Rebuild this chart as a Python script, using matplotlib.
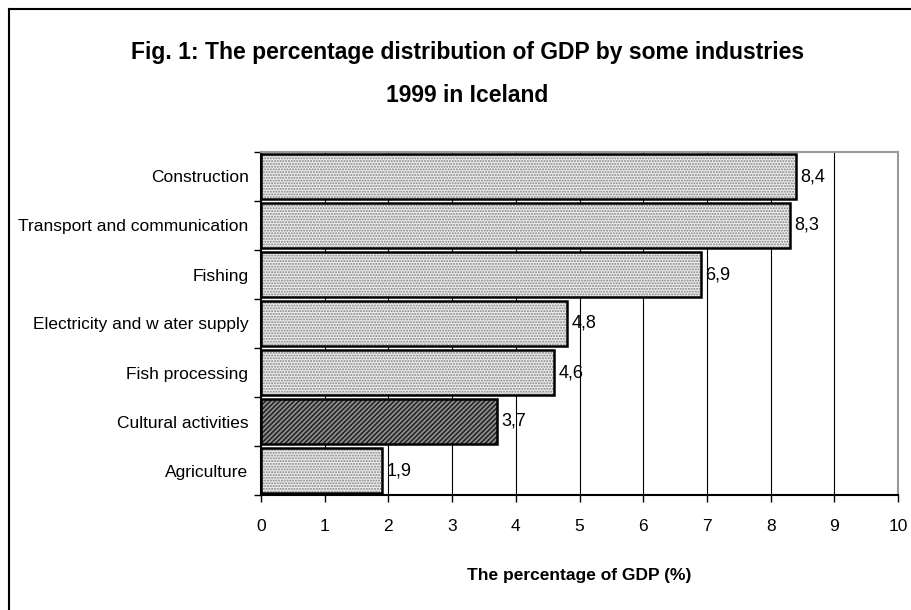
import matplotlib
matplotlib.use('Agg')
import matplotlib.pyplot as plt
import numpy as np

# GDP shares by industry, Iceland 1999
industries = ['Construction', 'Transport and communication', 'Fishing',
              'Electricity and w ater supply', 'Fish processing',
              'Cultural activities', 'Agriculture']
share = [8.4, 8.3, 6.9, 4.8, 4.6, 3.7, 1.9]
share_lbl = ['8,4', '8,3', '6,9', '4,8', '4,6', '3,7', '1,9']
highlight = 'Cultural activities'

plt.rcParams['font.family'] = ['Liberation Sans Narrow', 'Liberation Sans', 'DejaVu Sans']

fig = plt.figure(figsize=(9.11, 6.10), dpi=100)
ax = fig.add_axes([261/911, 1-495/610, (898-261)/911, (495-152)/610])

y = np.arange(len(industries))
dotted = [i != highlight for i in industries]

# grid behind bars
ax.set_axisbelow(True)
ax.grid(True, axis='x', color='black', lw=0.8)

for yi, v, d in zip(y, share, dotted):
    if d:
        ax.barh(yi, v, height=0.9, color='#eeeeee', hatch='......', edgecolor='#808080', lw=0)
    else:
        ax.barh(yi, v, height=0.9, color='#8a8a8a', hatch='///////', edgecolor='#1a1a1a', lw=0)
    ax.barh(yi, v, height=0.9, fill=False, edgecolor='black', lw=1.8)

for yi, v, t in zip(y, share, share_lbl):
    ax.text(v + 0.07, yi, t, va='center', ha='left', fontsize=13)

ax.set_xlim(0, 10)
ax.set_ylim(len(industries) - 0.5, -0.5)
ax.set_xticks(range(0, 11))
ax.tick_params(axis='x', direction='out', length=5, width=1, labelsize=12.5, pad=12)
ax.set_yticks(y)
ax.set_yticklabels(industries)
ax.tick_params(axis='y', which='major', length=0, labelsize=12.5, pad=9)
ax.set_yticks(np.arange(-0.5, len(industries)), minor=True)
ax.tick_params(axis='y', which='minor', direction='out', length=5, width=1)

for s in ['top', 'right']:
    ax.spines[s].set_color('#999999')
    ax.spines[s].set_linewidth(1.5)
for s in ['left', 'bottom']:
    ax.spines[s].set_color('black')
    ax.spines[s].set_linewidth(1.5)

ax.set_xlabel('The percentage of GDP (%)', fontsize=12.5, fontweight='bold', labelpad=25)

fig.text(0.5 + 0.013, 1-52/610, 'Fig. 1: The percentage distribution of GDP by some industries',
         ha='center', va='center', fontsize=16.5, fontweight='bold')
fig.text(0.5 + 0.013, 1-95/610, '1999 in Iceland',
         ha='center', va='center', fontsize=16.5, fontweight='bold')

# outer frame: top and left lines
fig.add_artist(plt.Line2D([9/911, 1], [1-8.5/610, 1-8.5/610], color='black', lw=1.5, transform=fig.transFigure))
fig.add_artist(plt.Line2D([9/911, 9/911], [0, 1-8.5/610], color='black', lw=1.5, transform=fig.transFigure))

fig.savefig('out.png', dpi=100)
